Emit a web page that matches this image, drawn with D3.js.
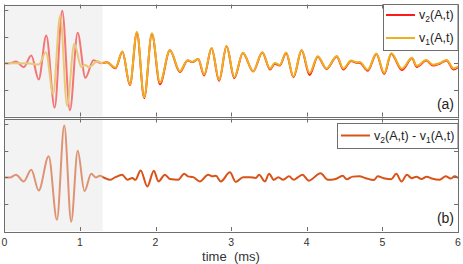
<!DOCTYPE html>
<html><head><meta charset="utf-8">
<script src="https://cdn.jsdelivr.net/npm/d3@7"></script>
<style>body{margin:0;background:#fff}svg{display:block}text{font-family:"Liberation Sans",Arial,sans-serif}</style>
</head><body><svg id="c" width="463" height="264"></svg>
<script>
// ---- data ----
const xTicks = [0,1,2,3,4,5,6];
const yTicks = [-1,0,1,2];
const shadeEnd = 1.3;

const tV2 = [0,0.075,0.155,0.256,0.357,0.455,0.555,0.666,0.766,0.868,0.970,1.073,1.179,1.278,1.357,1.470,1.562,1.661,1.754,1.850,1.952,2.058,2.190,2.322,2.424,2.490,2.564,2.643,2.741,2.841,2.939,3.042,3.155,3.291,3.412,3.515,3.577,3.643,3.727,3.824,3.932,4.036,4.146,4.261,4.397,4.483,4.586,4.660,4.700,4.806,4.921,5.024,5.117,5.258,5.392,5.454,5.580,5.669,5.758,5.848,5.943,6.0];
const v2  = [0,0,0.06,-0.15,0.29,-0.61,1.04,-1.67,1.97,-1.77,1.14,-0.55,0.11,0,0.03,-0.19,0.43,-0.82,1.15,-1.31,1.10,-0.79,0.48,-0.33,0.10,0.04,0.16,-0.46,0.56,-0.66,0.63,-0.56,0.38,-0.31,0.40,-0.24,-0.02,-0.09,0.38,-0.53,0.48,-0.44,0.24,-0.22,0.25,-0.24,0.08,0.02,0.02,-0.28,0.34,-0.41,0.35,-0.26,0.18,-0.14,0.10,-0.09,-0.02,0.10,-0.24,-0.15];

const tV1 = [0,0.207,0.340,0.455,0.551,0.646,0.739,0.831,0.925,1.020,1.067,1.119,1.232,1.291,1.357,1.470,1.562,1.661,1.754,1.850,1.952,2.058,2.190,2.322,2.424,2.490,2.564,2.643,2.741,2.841,2.939,3.042,3.155,3.291,3.412,3.515,3.577,3.643,3.727,3.824,3.932,4.036,4.146,4.261,4.397,4.483,4.586,4.660,4.700,4.806,4.921,5.024,5.117,5.258,5.392,5.454,5.580,5.669,5.758,5.848,5.943,6.0];
const v1  = [0,0,-0.01,-0.05,0.41,-1.16,1.79,-1.60,0.73,-0.15,-0.07,-0.15,0.07,0.01,0.03,-0.17,0.44,-0.80,1.17,-1.28,1.12,-0.73,0.49,-0.30,0.11,0.05,0.17,-0.43,0.57,-0.63,0.64,-0.53,0.39,-0.30,0.41,-0.21,0.01,-0.07,0.40,-0.50,0.49,-0.37,0.26,-0.20,0.27,-0.20,0.10,0.03,0.04,-0.25,0.36,-0.37,0.37,-0.21,0.20,-0.10,0.12,-0.06,0.00,0.12,-0.20,-0.13];

const tDiff = [0,0.075,0.155,0.256,0.357,0.455,0.587,0.696,0.793,0.885,0.971,1.060,1.150,1.212,1.261,1.327,1.397,1.463,1.559,1.628,1.692,1.734,1.803,1.892,1.978,2.038,2.124,2.190,2.299,2.379,2.428,2.498,2.586,2.696,2.758,2.798,2.864,2.983,3.062,3.158,3.247,3.326,3.370,3.445,3.502,3.564,3.624,3.687,3.766,3.828,3.885,3.943,4.027,4.183,4.278,4.370,4.476,4.529,4.608,4.694,4.780,4.886,4.939,5.018,5.117,5.183,5.253,5.324,5.388,5.450,5.516,5.586,5.652,5.758,5.837,5.903,5.956,6.0];
const vDiff = [0,0,0.10,-0.15,0.29,-0.49,0.79,-1.58,1.94,-1.65,1.00,-0.51,0.14,0,0.06,-0.02,-0.09,0,0.10,-0.09,-0.02,-0.09,0.26,-0.34,0.25,-0.15,0.10,-0.06,-0.09,0.14,0.04,0.01,-0.15,0.10,0.04,0.06,-0.15,0.19,-0.17,0.01,0.01,-0.02,0.10,-0.15,0.14,-0.09,0.01,-0.09,0.04,-0.09,0.01,0.10,-0.12,0.16,-0.09,-0.07,0.06,-0.07,0.03,0.04,-0.03,-0.10,0.04,-0.03,-0.07,0.14,-0.15,0.10,-0.03,0.03,-0.06,0.03,-0.04,-0.09,0.04,-0.04,0.04,-0.02];

// ---- drawing ----
const svg = d3.select("#c");
const L = 4.3, R = 458;
const x = d3.scaleLinear().domain([0,6]).range([L,R]);
const panels = [
  {top:4.5, bot:116.5, label:"(a)"},
  {top:118.5, bot:231, label:"(b)"}
];
const axisCol = "#6e6e6e";
const tickLen = 4;

panels.forEach((p,i)=>{
  const y = d3.scaleLinear().domain([-2,2.2]).range([p.bot,p.top]);
  const g = svg.append("g");
  const clipId = "clip"+i;
  svg.append("clipPath").attr("id",clipId).append("rect")
    .attr("x",L).attr("y",p.top).attr("width",R-L).attr("height",p.bot-p.top);
  const line = d3.line().x(d=>x(d[0])).y(d=>y(d[1])).curve(d3.curveMonotoneX);
  const plot = g.append("g").attr("clip-path",`url(#${clipId})`);
  if(i===0){
    plot.append("path").datum(tV2.map((t,k)=>[t,v2[k]])).attr("d",line)
      .attr("fill","none").attr("stroke","#ff1a1a").attr("stroke-width",2);
    plot.append("path").datum(tV1.map((t,k)=>[t,v1[k]])).attr("d",line)
      .attr("fill","none").attr("stroke","#edb120").attr("stroke-width",2);
  } else {
    plot.append("path").datum(tDiff.map((t,k)=>[t,vDiff[k]])).attr("d",line)
      .attr("fill","none").attr("stroke","#d95319").attr("stroke-width",2);
  }
  plot.append("rect").attr("x",x(0)).attr("y",p.top).attr("width",x(shadeEnd)-x(0))
    .attr("height",p.bot-p.top).attr("fill","#e4e4e4").attr("opacity",0.45);

  const tk = g.append("g").attr("stroke",axisCol).attr("stroke-width",1);
  xTicks.forEach(t=>{
    const xx = Math.round(x(t))+0.5;
    tk.append("line").attr("x1",xx).attr("x2",xx).attr("y1",p.bot).attr("y2",p.bot-tickLen);
    tk.append("line").attr("x1",xx).attr("x2",xx).attr("y1",p.top).attr("y2",p.top+tickLen);
  });
  yTicks.forEach(v=>{
    const yy = Math.round(y(v))+0.5;
    tk.append("line").attr("x1",L).attr("x2",L+tickLen).attr("y1",yy).attr("y2",yy);
    tk.append("line").attr("x1",R).attr("x2",R-tickLen).attr("y1",yy).attr("y2",yy);
  });
  g.append("rect").attr("x",Math.round(L)+0.5).attr("y",Math.round(p.top)+0.5)
    .attr("width",Math.round(R-L)).attr("height",Math.round(p.bot-p.top))
    .attr("fill","none").attr("stroke",axisCol).attr("stroke-width",1);

  g.append("text").attr("x",454).attr("y",p.bot-8).attr("text-anchor","end")
    .attr("font-size",14).attr("fill","#222").text(p.label);
});

const xl = svg.append("g");
xTicks.forEach(t=>{
  xl.append("text").attr("x",x(t)).attr("y",245.5).attr("text-anchor","middle")
    .attr("font-size",10.5).attr("fill","#333").text(t);
});
svg.append("text").attr("x",231).attr("y",261).attr("text-anchor","middle")
  .attr("font-size",13).attr("fill","#333").attr("xml:space","preserve")
  .style("white-space","pre").text("time  (ms)");

const lg1 = svg.append("g");
lg1.append("rect").attr("x",383.5).attr("y",4.5).attr("width",74.5).attr("height",46)
  .attr("fill","#fff").attr("stroke",axisCol);
[["#ff1a1a",15,"2"],["#edb120",38,"1"]].forEach(([c,yy,s])=>{
  lg1.append("line").attr("x1",386).attr("x2",415).attr("y1",yy).attr("y2",yy)
    .attr("stroke",c).attr("stroke-width",2);
  const t = lg1.append("text").attr("x",419).attr("y",yy+4).attr("font-size",12.5).attr("fill","#222");
  t.append("tspan").text("v");
  t.append("tspan").attr("font-size",8.5).attr("dy",3).text(s);
  t.append("tspan").attr("dy",-3).text("(A,t)");
});
const lg2 = svg.append("g");
lg2.append("rect").attr("x",337.5).attr("y",123.5).attr("width",120.5).attr("height",25)
  .attr("fill","#fff").attr("stroke",axisCol);
lg2.append("line").attr("x1",341).attr("x2",370).attr("y1",135.5).attr("y2",135.5)
  .attr("stroke","#d95319").attr("stroke-width",2);
{
  const t = lg2.append("text").attr("x",374).attr("y",139.5).attr("font-size",12.5).attr("fill","#222");
  t.append("tspan").text("v");
  t.append("tspan").attr("font-size",8.5).attr("dy",3).text("2");
  t.append("tspan").attr("dy",-3).text("(A,t) - v");
  t.append("tspan").attr("font-size",8.5).attr("dy",3).text("1");
  t.append("tspan").attr("dy",-3).text("(A,t)");
}
</script></body></html>
